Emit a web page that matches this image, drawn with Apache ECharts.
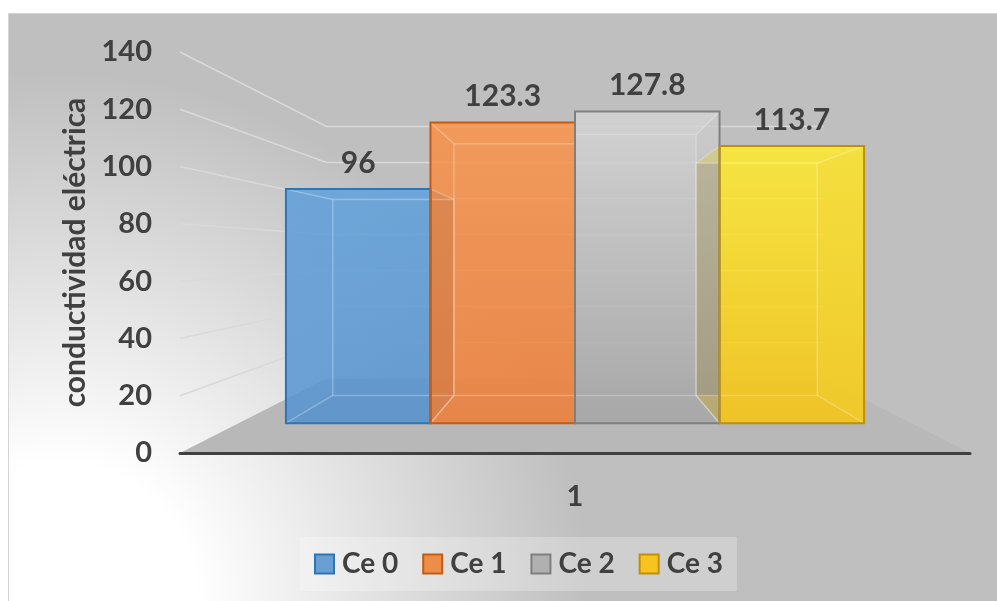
<!DOCTYPE html>
<html>
<head>
<meta charset="utf-8">
<script src="https://cdn.jsdelivr.net/npm/echarts@6/dist/echarts.min.js"></script>
<style>
  html, body { margin: 0; padding: 0; background: #ffffff; }
  #chart { width: 997px; height: 601px; }
</style>
</head>
<body>
<div id="chart"></div>
<script>
// ---- data ----
const categories = ['1'];
const seriesNames = ['Ce 0', 'Ce 1', 'Ce 2', 'Ce 3'];
const ce0 = [96];
const ce1 = [123.3];
const ce2 = [127.8];
const ce3 = [113.7];
const seriesValues = [ce0, ce1, ce2, ce3];
const yMin = 0;
const yMax = 140;
const yStep = 20;
const yTicks = [0, 20, 40, 60, 80, 100, 120, 140];

// ---- look ----
const FONT = 'Lato';
const TEXT = '#404040';
const WALL_DEPTH = 0.629;   // back wall, as a scale toward the vanishing point
const BAR_FRONT = 0.851;    // front face of the boxes
const BAR_BACK = 0.713;     // back face of the boxes
const GROUP_SHARE = 0.86;   // share of the category band used by the boxes
const FACE_ALPHA = 0.6;
const SHADED_ALPHA = 0.8;
const SHADOW = [64, 64, 78];

const palette = [
  { top: [94, 160, 220], bottom: [82, 144, 207], edge: '#2e75b6', legend: '#6a9fd4' },
  { top: [250, 147, 73], bottom: [240, 124, 52], edge: '#c55a11', legend: '#ee8c4a' },
  { top: [212, 212, 212], bottom: [165, 165, 165], edge: '#7f7f7f', legend: '#b0b0b0' },
  { top: [255, 235, 42], bottom: [249, 197, 11], edge: '#bf9000', legend: '#f6c31f' }
];

function rgba(c, a) { return 'rgba(' + c.map(Math.round).join(',') + ',' + a + ')'; }
function mix(c1, c2, t) { return c1.map((v, i) => v + (c2[i] - v) * t); }
function project(p, s, vp) { return [vp[0] + (p[0] - vp[0]) * s, vp[1] + (p[1] - vp[1]) * s]; }
function vertGrad(c1, c2, a) {
  return new echarts.graphic.LinearGradient(0, 0, 0, 1, [
    { offset: 0, color: rgba(c1, a) },
    { offset: 1, color: rgba(c2, a) }
  ]);
}
function vanishing(cs) { return [cs.x + cs.width / 2, cs.y + cs.height / 2]; }

// floor and the gridlines running along the left and back walls
function renderWalls(params, api) {
  const cs = params.coordSys;
  const vp = vanishing(cs);
  const v = api.value(1);
  const y = api.coord([0, v])[1];
  const left = [cs.x, y];
  const right = [cs.x + cs.width, y];
  if (v === yMin) {
    return {
      type: 'polygon',
      shape: { points: [left, project(left, WALL_DEPTH, vp), project(right, WALL_DEPTH, vp), right] },
      style: { fill: '#b8b8b8' },
      z2: 1
    };
  }
  return {
    type: 'polyline',
    shape: { points: [left, project(left, WALL_DEPTH, vp), project(right, WALL_DEPTH, vp)] },
    style: { stroke: '#d9d9d9', lineWidth: 1.5, fill: null },
    z2: 2
  };
}

// one translucent box per series, placed side by side in the category band
function boxRenderer(idx) {
  return function (params, api) {
    const cs = params.coordSys;
    const vp = vanishing(cs);
    const cat = api.value(0);
    const val = api.value(1);
    const base = api.coord([cat, yMin]);
    const top = api.coord([cat, val]);
    const band = api.size([1, 0])[0];
    const groupW = band * GROUP_SHARE;
    const barW = groupW / seriesNames.length;
    const x0 = base[0] - groupW / 2 + idx * barW;
    const x1 = x0 + barW;
    const rect = [[x0, top[1]], [x1, top[1]], [x1, base[1]], [x0, base[1]]];
    const F = rect.map(p => project(p, BAR_FRONT, vp));
    const B = rect.map(p => project(p, BAR_BACK, vp));
    const pal = palette[idx];
    const mid = mix(pal.top, pal.bottom, 0.5);
    // a side that faces the viewer is shaded darker
    const litSide = rgba(mid, FACE_ALPHA);
    const darkSide = rgba(mix(mid, SHADOW, 0.6), SHADED_ALPHA);
    const leftFill = x0 > vp[0] ? darkSide : litSide;
    const rightFill = x1 < vp[0] ? darkSide : litSide;
    const poly = (pts, fill, z2) => ({ type: 'polygon', shape: { points: pts }, style: { fill: fill }, z2: z2 });
    const children = [
      poly(B, vertGrad(pal.top, pal.bottom, FACE_ALPHA), 10),
      poly([F[0], B[0], B[3], F[3]], leftFill, 20),
      poly([F[1], B[1], B[2], F[2]], rightFill, 20),
      poly([F[0], F[1], B[1], B[0]], rgba(pal.top, FACE_ALPHA), 20),
      poly([F[3], F[2], B[2], B[3]], rgba(pal.bottom, FACE_ALPHA), 20),
      poly(F, vertGrad(pal.top, pal.bottom, FACE_ALPHA), 30),
      {
        type: 'polyline',
        shape: { points: [B[0], B[1], B[2], B[3], B[0]] },
        style: { stroke: 'rgba(255,255,255,0.25)', lineWidth: 1.5, fill: null },
        z2: 40
      }
    ];
    for (let k = 0; k < 4; k++) {
      children.push({
        type: 'line',
        shape: { x1: F[k][0], y1: F[k][1], x2: B[k][0], y2: B[k][1] },
        style: { stroke: 'rgba(255,255,255,0.25)', lineWidth: 1.5 },
        z2: 40
      });
    }
    children.push({
      type: 'polygon',
      shape: { points: F },
      style: { fill: null, stroke: pal.edge, lineWidth: 2 },
      z2: 50
    });
    children.push({
      type: 'text',
      style: {
        text: String(val),
        x: (F[0][0] + F[1][0]) / 2,
        y: F[0][1] - 26,
        align: 'center',
        verticalAlign: 'middle',
        fontFamily: FONT,
        fontWeight: 'bold',
        fontSize: 30,
        fill: TEXT
      },
      z2: 60
    });
    return { type: 'group', children: children };
  };
}

const chart = echarts.init(document.getElementById('chart'), null, { renderer: 'canvas' });

const series = [{
  type: 'custom',
  name: 'walls',
  silent: true,
  z: 1,
  renderItem: renderWalls,
  data: yTicks.map(v => [0, v])
}];
seriesNames.forEach((name, i) => {
  series.push({
    type: 'custom',
    name: name,
    z: 2,
    renderItem: boxRenderer(i),
    itemStyle: { color: palette[i].legend, borderColor: palette[i].edge, borderWidth: 2 },
    data: seriesValues[i].map((v, c) => [c, v])
  });
});

chart.setOption({
  animation: false,
  backgroundColor: '#ffffff',
  graphic: [{
    type: 'rect',
    z: -1,
    silent: true,
    shape: { x: 8.5, y: 13.5, width: 989, height: 588 },
    style: {
      fill: new echarts.graphic.RadialGradient(60, 600, 620, [
        { offset: 0, color: '#ffffff' },
        { offset: 0.22, color: '#ffffff' },
        { offset: 0.85, color: '#bfbfbf' },
        { offset: 1, color: '#bfbfbf' }
      ], true),
      stroke: '#d4d4d4',
      lineWidth: 1
    }
  }],
  grid: { left: 180, right: 27, top: 52, bottom: 148, outerBoundsMode: 'none' },
  legend: {
    data: seriesNames.map((n, i) => ({
      name: n,
      itemStyle: { color: palette[i].legend, borderColor: palette[i].edge, borderWidth: 2 }
    })),
    left: 300,
    top: 537,
    icon: 'rect',
    itemWidth: 19,
    itemHeight: 19,
    itemGap: 24,
    padding: [13, 14],
    backgroundColor: 'rgba(255,255,255,0.25)',
    selectedMode: false,
    textStyle: { fontFamily: FONT, fontWeight: 'bold', fontSize: 28, color: TEXT, padding: [0, 0, 0, 3] }
  },
  xAxis: {
    type: 'category',
    data: categories,
    z: 10,
    axisTick: { show: false },
    axisLine: { lineStyle: { color: TEXT, width: 3, cap: 'round' } },
    axisLabel: { fontFamily: FONT, fontWeight: 'bold', fontSize: 29, color: TEXT, margin: 29 }
  },
  yAxis: {
    type: 'value',
    min: yMin,
    max: yMax,
    interval: yStep,
    name: 'conductividad eléctrica',
    nameLocation: 'middle',
    nameGap: 84,
    nameTextStyle: { fontFamily: FONT, fontWeight: 'bold', fontSize: 30, color: TEXT },
    axisLine: { show: false },
    axisTick: { show: false },
    splitLine: { show: false },
    axisLabel: { fontFamily: FONT, fontWeight: 'bold', fontSize: 29, color: TEXT, margin: 28, padding: [6, 0, 0, 0] }
  },
  series: series
});
</script>
</body>
</html>
